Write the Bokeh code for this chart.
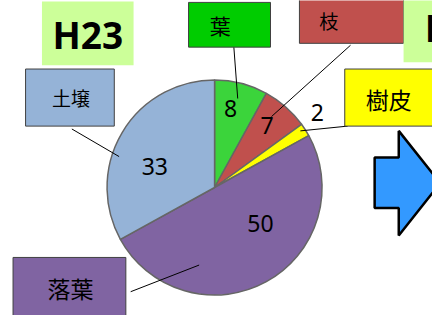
import numpy as np
from bokeh.plotting import figure
from bokeh.models import Range1d, ColumnDataSource
from bokeh.core.properties import value
from bokeh.embed import file_html
from bokeh.resources import INLINE

# ---------------- data ----------------
categories = ["葉", "枝", "樹皮", "落葉", "土壌"]
values = [8, 7, 2, 50, 33]
year_labels = ["H23", "H24"]

# ---------------- styles ----------------
slice_colors = ["#3BD43B", "#C0504D", "#FFFF00", "#8064A2", "#95B3D7"]
box_colors = ["#00CC00", "#C0504D", "#FFFF00", "#8064A2", "#95B3D7"]
CJK = "Noto Sans CJK JP"
LAT = "Noto Sans"

# ---------------- layout (reference pixel coords, y down) ----------------
def Y(y):
    return 331 - y

cx, cy, R = 222, 196.5, 111.5
val_pos = [(238.5, 114), (276.5, 131.5), (328.5, 118), (269.5, 234.5), (160, 174)]
box_pos = [(195, 280, 2, 49), (310, 418, -3, 45), (357, 470, 72, 132),
           (13, 130, 270, 345), (26, 118, 72, 132)]
box_text_pos = [(228, 25.5), (340.5, 21), (402.5, 103.5), (72.5, 302.5), (73, 102)]
box_text_size = ["21px", "19px", "23px", "23px", "19px"]
leaders = [((242, 49), (246, 103)), ((363, 47), (281, 122)),
           ((360, 132), (311, 137)), ((135, 306), (206, 278)),
           ((74, 135), (123, 164))]

p = figure(width=432, height=315, x_range=Range1d(0, 448), y_range=Range1d(0, 331),
           output_backend="svg", toolbar_location=None, min_border=0,
           x_axis_location=None, y_axis_location=None)
p.grid.visible = False
p.outline_line_color = None
p.background_fill_color = "white"
p.border_fill_color = "white"

# ---------------- pie ----------------
vals = np.array(values, dtype=float)
cum = np.cumsum(vals)
tot = vals.sum()
start = np.pi / 2 - 2 * np.pi * cum / tot
end = np.pi / 2 - 2 * np.pi * (cum - vals) / tot
src = ColumnDataSource(dict(start=start, end=end, color=slice_colors, cat=categories))
p.wedge(x=cx, y=Y(cy), radius=R, start_angle="start", end_angle="end",
        fill_color="color", line_color="#666666", line_width=1.5, source=src)

# value labels
p.text(x=[q[0] for q in val_pos], y=[Y(q[1]) for q in val_pos],
       text=[str(v) for v in values], text_font=value(LAT),
       text_font_size=value("23px"), text_align="center", text_baseline="middle",
       text_color="black")

# leader lines
for (a, b) in leaders:
    p.line(x=[a[0], b[0]], y=[Y(a[1]), Y(b[1])], line_color="black", line_width=1)

# category boxes
p.quad(left=[b[0] for b in box_pos], right=[b[1] for b in box_pos],
       top=[Y(b[2]) for b in box_pos], bottom=[Y(b[3]) for b in box_pos],
       fill_color=box_colors, line_color="#404040", line_width=1)
for cat, (tx, ty), fs in zip(categories, box_text_pos, box_text_size):
    p.text(x=[tx], y=[Y(ty)], text=[cat], text_font=value(CJK),
           text_font_size=value(fs), text_align="center", text_baseline="middle",
           text_color="black")

# year boxes
p.quad(left=[43, 418], right=[138, 470], top=[Y(1), Y(-5)], bottom=[Y(68), Y(65)],
       fill_color="#CCFF99", line_color=None)
p.text(x=[90.5], y=[Y(36)], text=[year_labels[0]], text_font=value(LAT),
       text_font_style="bold", text_font_size=value("37px"),
       text_align="center", text_baseline="middle", text_color="black")
p.text(x=[440], y=[Y(28)], text=[year_labels[1]], text_font=value(LAT),
       text_font_style="bold", text_font_size=value("37px"),
       text_align="left", text_baseline="middle", text_color="black")

# arrow
ax = [388, 413, 413, 456, 413, 413, 388]
ay = [165, 165, 137, 192, 247, 218, 218]
p.patch(x=ax, y=[Y(v) for v in ay], fill_color="#3399FF", line_color="black",
        line_width=2.5)

open("out.html", "w").write(file_html(p, INLINE))
